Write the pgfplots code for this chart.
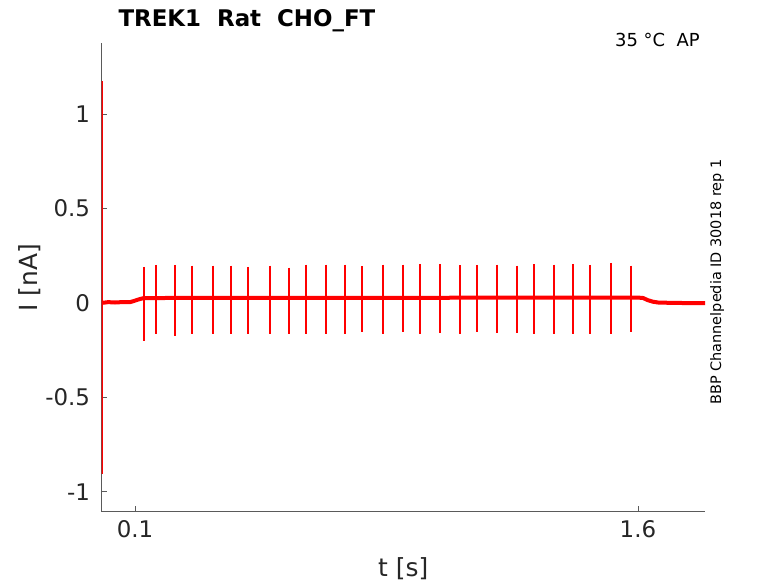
\documentclass[border=0pt]{standalone}
\usepackage{fontspec}
\setmainfont{DejaVu Sans}
\usepackage{pgfplots}
\pgfplotsset{compat=1.18}
\definecolor{txt}{HTML}{262626}
\definecolor{axc}{HTML}{5A5A5A}
\begin{document}
\begin{tikzpicture}[x=1bp,y=1bp]
\path[use as bounding box] (0,0) rectangle (778,583);
\begin{axis}[
 at={(101.5bp,71.3bp)}, anchor=south west,
 scale only axis, width=603.5bp, height=468.4bp,
 xmin=0, xmax=1.8, ymin=-1.106, ymax=1.375,
 axis x line*=bottom, axis y line*=left,
 axis line style={axc, line width=0.8bp},
 tick style={axc, line width=0.8bp}, major tick length=5.5bp, tick align=inside,
 minor tick num=0,
 xtick={0.1,1.6}, xticklabels={0.1,1.6},
 ytick={-1,-0.5,0,0.5,1}, yticklabels={-1,-0.5,0,0.5,1},
 ticklabel style={font=\fontsize{23}{27}\selectfont, text=txt},
 xticklabel style={yshift=-5bp},
 yticklabel style={xshift=-8bp},
 xlabel={t [s]}, ylabel={I [nA]},
 every axis x label/.style={at={(axis description cs:0.5,-0.1373)}, anchor=base, font=\fontsize{25}{30}\selectfont, text=txt},
 every axis y label/.style={at={(axis description cs:-0.1064,0.5)}, anchor=base, rotate=90, font=\fontsize{25}{30}\selectfont, text=txt},
 title={TREK1\ \ Rat\ \ CHO\_FT},
 every axis title/.style={at={(axis description cs:0.0224,1.0369)}, anchor=base west, font=\bfseries\fontsize{23}{28}\selectfont, text=black},
 unbounded coords=jump,
]
% baseline current
\addplot[red, line width=4bp, line join=round] coordinates {
(0.0015,0.0) (0.02,0.004) (0.04,0.002) (0.06,0.004) (0.085,0.004) (0.095,0.009) (0.11,0.018) (0.125,0.025)
(0.2,0.026) (0.4,0.027) (0.6,0.027) (0.8,0.027) (1.0,0.027) (1.2,0.028) (1.4,0.028) (1.6,0.028)
(1.615,0.026) (1.63,0.014) (1.645,0.006) (1.66,0.002) (1.7,0.0) (1.75,-0.001) (1.8,-0.001)
};
% initial transient
\addplot[red, line width=1.6bp] coordinates {
(0.0008,1.175) (0.0008,-0.905)
};
% capacitive spikes
\addplot[red, line width=2bp] coordinates {
(0.1275,0.191) (0.1275,-0.200) (nan,nan)
(0.1633,0.201) (0.1633,-0.164) (nan,nan)
(0.2191,0.201) (0.2191,-0.177) (nan,nan)
(0.2707,0.198) (0.2707,-0.163) (nan,nan)
(0.3313,0.198) (0.3313,-0.163) (nan,nan)
(0.3872,0.198) (0.3872,-0.163) (nan,nan)
(0.4379,0.191) (0.4379,-0.163) (nan,nan)
(0.5015,0.198) (0.5015,-0.163) (nan,nan)
(0.5603,0.187) (0.5603,-0.163) (nan,nan)
(0.6110,0.203) (0.6110,-0.163) (nan,nan)
(0.6707,0.203) (0.6707,-0.163) (nan,nan)
(0.7275,0.203) (0.7275,-0.163) (nan,nan)
(0.7782,0.194) (0.7782,-0.154) (nan,nan)
(0.8409,0.203) (0.8409,-0.164) (nan,nan)
(0.8997,0.203) (0.8997,-0.154) (nan,nan)
(0.9513,0.207) (0.9513,-0.164) (nan,nan)
(1.0110,0.207) (1.0110,-0.159) (nan,nan)
(1.0678,0.199) (1.0678,-0.163) (nan,nan)
(1.1185,0.201) (1.1185,-0.154) (nan,nan)
(1.1803,0.203) (1.1803,-0.159) (nan,nan)
(1.2400,0.198) (1.2400,-0.159) (nan,nan)
(1.2907,0.205) (1.2907,-0.163) (nan,nan)
(1.3504,0.203) (1.3504,-0.163) (nan,nan)
(1.4072,0.207) (1.4072,-0.163) (nan,nan)
(1.4579,0.201) (1.4579,-0.163) (nan,nan)
(1.5206,0.212) (1.5206,-0.163) (nan,nan)
(1.5791,0.198) (1.5791,-0.154)
};
\end{axis}
\node[anchor=base west, font=\fontsize{18}{22}\selectfont, text=black, inner sep=0pt] at (615,536) {35 °C\ \ AP};
\node[anchor=base, rotate=90, font=\fontsize{14.5}{17}\selectfont, text=black, inner sep=0pt] at (721,301) {BBP Channelpedia ID 30018 rep 1};
\end{tikzpicture}
\end{document}
